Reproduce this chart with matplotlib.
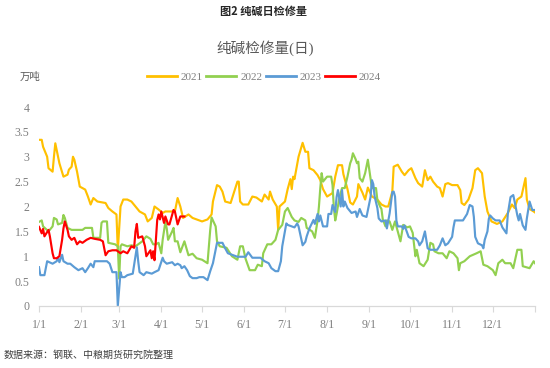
import matplotlib
matplotlib.use("Agg")
import matplotlib.pyplot as plt

# ---------------- data (day of year, value in 万吨) ----------------
days_2021 = [0, 2, 3, 6, 7, 10, 11, 12, 13, 15, 18, 21, 22, 24, 25, 26, 28, 30, 34, 36, 38, 40, 43, 49, 51, 54, 57, 58, 60, 62, 65, 68, 71, 74, 78, 80, 83, 85, 88, 91, 93, 97, 100, 102, 104, 106, 110, 113, 116, 120, 124, 127, 128, 131, 133, 135, 137, 141, 143, 146, 147, 148, 150, 154, 157, 160, 164, 166, 169, 170, 172, 175, 176, 177, 181, 183, 185, 186, 187, 188, 191, 194, 196, 198, 199, 202, 205, 207, 209, 212, 216, 218, 220, 223, 224, 227, 229, 231, 234, 235, 238, 240, 242, 245, 249, 252, 255, 257, 260, 261, 264, 267, 269, 272, 274, 277, 279, 282, 284, 286, 288, 290, 293, 295, 297, 299, 301, 304, 308, 310, 311, 313, 316, 319, 321, 323, 326, 328, 330, 333, 337, 341, 345, 348, 350, 352, 355, 358, 359, 361, 364, 365]
vals_2021 = [3.34, 3.34, 3.2, 3.0, 2.77, 2.7, 3.0, 3.27, 3.14, 2.87, 2.6, 2.64, 2.74, 2.8, 3.0, 2.94, 2.7, 2.4, 2.34, 2.2, 2.04, 2.17, 2.1, 2.07, 1.97, 1.9, 1.84, 1.12, 2.0, 2.14, 2.14, 2.1, 2.0, 1.9, 1.84, 1.7, 1.77, 2.0, 1.94, 1.87, 1.9, 1.9, 1.9, 2.17, 2.0, 1.77, 1.84, 1.77, 1.74, 1.7, 1.74, 1.84, 2.1, 2.43, 2.4, 2.3, 2.1, 2.07, 2.24, 2.5, 2.5, 2.1, 2.04, 2.04, 2.2, 2.18, 2.1, 2.24, 2.14, 2.3, 2.14, 2.0, 1.53, 2.0, 2.1, 2.35, 2.55, 2.35, 2.6, 2.55, 3.0, 3.28, 3.1, 3.1, 2.77, 2.73, 2.63, 2.53, 2.35, 2.2, 2.27, 2.6, 2.83, 2.83, 2.65, 2.35, 2.08, 2.04, 2.2, 2.45, 2.28, 2.14, 2.38, 2.2, 2.14, 2.04, 2.0, 2.0, 2.3, 2.8, 2.84, 2.7, 2.63, 2.73, 2.77, 2.57, 2.47, 2.4, 2.73, 2.53, 2.6, 2.5, 2.4, 2.37, 2.2, 2.45, 2.47, 2.43, 2.43, 2.33, 2.07, 2.03, 2.14, 2.37, 2.73, 2.77, 2.67, 2.2, 1.9, 1.7, 1.65, 1.7, 1.87, 2.04, 1.97, 2.14, 2.2, 2.57, 2.14, 1.95, 1.9, 1.88]

days_2022 = [0, 2, 3, 7, 10, 11, 13, 14, 17, 18, 19, 21, 24, 32, 34, 39, 40, 45, 46, 47, 50, 51, 56, 58, 59, 60, 61, 65, 68, 71, 76, 79, 82, 84, 86, 88, 90, 91, 93, 94, 95, 98, 99, 100, 102, 104, 107, 110, 113, 116, 120, 124, 126, 127, 130, 131, 133, 138, 142, 146, 148, 150, 152, 155, 159, 161, 164, 165, 168, 171, 174, 176, 179, 181, 183, 186, 188, 191, 193, 196, 197, 201, 203, 205, 206, 207, 208, 209, 212, 215, 216, 217, 218, 219, 221, 223, 225, 227, 229, 230, 231, 233, 234, 235, 236, 238, 240, 242, 244, 245, 248, 249, 251, 252, 253, 255, 256, 258, 260, 262, 264, 266, 268, 271, 273, 275, 277, 278, 280, 283, 286, 288, 290, 291, 294, 297, 300, 302, 305, 308, 309, 310, 313, 317, 322, 325, 327, 330, 334, 336, 338, 341, 343, 347, 349, 352, 355, 356, 361, 364, 365]
vals_2022 = [1.69, 1.72, 1.6, 1.5, 1.6, 1.77, 1.74, 1.64, 1.67, 1.83, 1.77, 1.57, 1.53, 1.53, 1.57, 1.57, 1.37, 1.37, 1.67, 1.7, 1.7, 1.27, 1.24, 1.2, 0.55, 1.2, 1.24, 1.2, 1.22, 1.2, 1.3, 1.4, 1.35, 1.24, 1.24, 1.27, 1.06, 1.33, 1.69, 1.56, 1.33, 1.5, 1.57, 1.3, 1.3, 1.08, 1.3, 1.02, 1.05, 0.96, 0.93, 0.86, 1.53, 1.78, 1.6, 1.3, 1.2, 1.17, 1.0, 0.93, 1.2, 1.2, 0.95, 0.72, 0.72, 0.83, 0.8, 1.06, 1.24, 1.24, 1.33, 1.53, 1.63, 1.9, 1.97, 1.79, 1.72, 1.69, 1.77, 1.72, 1.57, 1.5, 1.37, 1.72, 2.0, 2.37, 2.67, 2.5, 2.6, 2.6, 2.43, 1.97, 1.72, 1.85, 2.17, 2.37, 2.37, 2.6, 2.87, 2.94, 3.07, 2.95, 2.87, 2.9, 2.57, 2.5, 2.67, 2.94, 2.57, 2.37, 2.37, 2.13, 2.0, 1.95, 1.74, 1.6, 1.72, 1.7, 1.53, 1.7, 1.5, 1.3, 1.63, 1.58, 1.6, 1.47, 1.0, 1.13, 0.86, 0.8, 0.93, 1.27, 1.24, 1.1, 1.06, 1.06, 0.96, 1.1, 1.06, 0.96, 0.72, 0.86, 0.9, 1.0, 1.06, 1.1, 0.83, 0.8, 0.72, 0.62, 0.86, 0.93, 0.86, 0.86, 0.76, 1.13, 1.13, 0.8, 0.76, 0.9, 0.86]

days_2023 = [0, 1, 4, 6, 10, 13, 14, 15, 17, 18, 21, 23, 26, 29, 32, 34, 36, 38, 40, 41, 50, 52, 54, 57, 58, 60, 61, 63, 65, 69, 72, 73, 74, 77, 79, 83, 85, 88, 91, 92, 94, 98, 100, 102, 104, 105, 107, 109, 111, 113, 116, 118, 121, 124, 126, 128, 131, 135, 137, 139, 143, 146, 150, 152, 154, 157, 163, 166, 169, 171, 174, 176, 178, 179, 181, 182, 183, 186, 188, 190, 191, 194, 196, 197, 199, 202, 203, 205, 206, 207, 209, 212, 213, 215, 216, 218, 219, 220, 222, 223, 224, 225, 227, 230, 233, 234, 236, 238, 241, 244, 245, 246, 247, 249, 250, 252, 255, 256, 258, 260, 261, 262, 263, 264, 267, 268, 269, 272, 274, 277, 279, 280, 282, 284, 286, 288, 293, 295, 297, 299, 301, 304, 305, 306, 312, 315, 317, 319, 320, 321, 323, 326, 327, 328, 330, 331, 332, 334, 336, 339, 341, 344, 345, 347, 349, 350, 352, 353, 354, 356, 358, 359, 360, 361, 363, 365]
vals_2023 = [0.78, 0.62, 0.62, 0.9, 0.85, 0.9, 0.97, 0.88, 1.03, 0.9, 0.85, 0.85, 0.78, 0.72, 0.76, 0.68, 0.76, 0.85, 0.78, 0.9, 0.9, 0.85, 0.68, 0.68, 0.0, 0.68, 0.58, 0.58, 0.62, 0.65, 1.18, 0.9, 0.68, 0.62, 0.68, 0.65, 0.68, 0.72, 0.97, 0.9, 0.85, 0.88, 0.82, 0.85, 0.82, 0.76, 0.8, 0.72, 0.6, 0.56, 0.56, 0.58, 0.58, 0.52, 0.7, 0.86, 1.27, 1.27, 1.16, 1.06, 1.02, 0.99, 0.99, 0.99, 1.08, 0.97, 0.97, 0.9, 0.86, 0.76, 0.7, 0.7, 0.9, 1.2, 1.5, 1.66, 1.63, 1.6, 1.58, 1.66, 1.6, 1.22, 1.29, 1.4, 1.56, 1.73, 1.65, 1.85, 1.7, 1.82, 1.6, 1.6, 1.85, 1.85, 2.03, 1.89, 2.19, 2.33, 2.0, 2.33, 2.0, 2.1, 1.97, 1.87, 1.9, 1.79, 1.95, 1.82, 1.79, 2.19, 2.53, 2.45, 2.2, 1.97, 1.76, 1.7, 1.72, 1.56, 1.86, 2.29, 2.3, 2.2, 1.72, 1.6, 1.6, 1.55, 1.62, 1.39, 1.36, 1.36, 1.3, 1.22, 1.3, 1.5, 1.16, 1.13, 1.13, 1.22, 1.36, 1.22, 1.26, 1.39, 1.58, 1.72, 1.72, 1.85, 2.03, 2.0, 1.79, 1.39, 1.26, 1.22, 1.16, 1.33, 1.5, 1.75, 1.82, 1.76, 1.72, 1.72, 1.58, 1.46, 1.85, 2.19, 2.23, 2.1, 1.82, 1.72, 1.85, 1.62, 1.53, 1.76, 1.93, 2.1, 1.93, 1.93]

days_2024 = [0, 2, 3, 4, 7, 8, 10, 11, 13, 15, 17, 18, 19, 21, 22, 24, 26, 28, 30, 32, 35, 38, 41, 45, 47, 49, 51, 54, 57, 60, 62, 65, 68, 70, 71, 72, 73, 76, 78, 79, 82, 83, 84, 85, 87, 88, 89, 90, 92, 93, 95, 96, 99, 100, 102, 104, 107]
vals_2024 = [1.59, 1.46, 1.55, 1.4, 1.53, 1.4, 1.06, 0.96, 0.96, 1.0, 1.33, 1.56, 1.7, 1.53, 1.4, 1.33, 1.37, 1.24, 1.3, 1.27, 1.33, 1.37, 1.35, 1.33, 1.3, 1.02, 1.1, 1.12, 1.12, 1.06, 1.1, 1.06, 1.2, 1.17, 1.5, 1.65, 1.37, 1.4, 1.2, 1.0, 1.12, 0.96, 1.1, 0.92, 1.73, 1.84, 1.74, 1.9, 1.67, 1.8, 1.64, 1.64, 1.93, 1.9, 1.64, 1.8, 1.8]

series_names = ["2021", "2022", "2023", "2024"]
series_colors = ["#FFC000", "#92D050", "#5B9BD5", "#FF0000"]

month_days = [0, 31, 59, 90, 120, 151, 181, 212, 243, 273, 304, 334]
month_labels = ["1/1", "2/1", "3/1", "4/1", "5/1", "6/1", "7/1", "8/1", "9/1", "10/1", "11/1", "12/1"]
y_ticks = [0, 0.5, 1, 1.5, 2, 2.5, 3, 3.5, 4]
y_labels = ["0", "0.5", "1", "1.5", "2", "2.5", "3", "3.5", "4"]

title_top = "图2 纯碱日检修量"
chart_title = "纯碱检修量(日)"
unit_label = "万吨"
source_note = "数据来源：钢联、中粮期货研究院整理"

# ---------------- drawing ----------------
CJK = ["Noto Sans CJK SC", "DejaVu Sans"]
SERIF = ["Liberation Serif", "Noto Sans CJK SC"]

fig = plt.figure(figsize=(5.5, 3.68), dpi=100)
ax = fig.add_axes([39 / 550, 1 - 306 / 368, (535 - 39) / 550, (306 - 107) / 368])

all_days = [days_2021, days_2022, days_2023, days_2024]
all_vals = [vals_2021, vals_2022, vals_2023, vals_2024]
for d, v, name, c in zip(all_days, all_vals, series_names, series_colors):
    ax.plot(d, v, color=c, lw=1.55, label=name, solid_joinstyle="round")

ax.set_xlim(0, 365)
ax.set_ylim(0, 4)
ax.set_yticks(y_ticks)
ax.set_yticklabels(y_labels, family=SERIF, fontsize=8.5, color="#7F7F7F")
ax.set_xticks(month_days + [365])
ax.set_xticklabels(month_labels + [""], family=SERIF, fontsize=8.5, color="#7F7F7F")
ax.tick_params(axis="y", length=0, pad=7)
ax.tick_params(axis="x", length=4, width=0.8, color="#D9D9D9", pad=5, direction="out")
for s in ["top", "right", "left"]:
    ax.spines[s].set_visible(False)
ax.spines["bottom"].set_color("#D9D9D9")
ax.spines["bottom"].set_linewidth(0.9)

leg = fig.legend(loc="center", bbox_to_anchor=(264 / 550, 1 - 77 / 368), ncol=4, frameon=False,
                 prop={"family": SERIF, "size": 8}, handlelength=2.7, handletextpad=0.35,
                 columnspacing=0.3, borderaxespad=0)
for t in leg.get_texts():
    t.set_color("#7F7F7F")
for l in leg.get_lines():
    l.set_linewidth(2.0)

fig.text(264 / 550, 1 - 11 / 368, title_top, ha="center", va="center", family=CJK,
         fontsize=8, fontweight="bold", color="#262626")
fig.text(265 / 550, 1 - 48 / 368, chart_title, ha="center", va="center", family=SERIF,
         fontsize=10.5, color="#595959")
fig.text(20 / 550, 1 - 77 / 368, unit_label, ha="left", va="center", family=CJK,
         fontsize=7.5, color="#595959")
fig.text(4 / 550, 1 - 355 / 368, source_note, ha="left", va="center", family=CJK,
         fontsize=7.2, color="#404040", style="italic")

fig.savefig("out.png", dpi=100)
